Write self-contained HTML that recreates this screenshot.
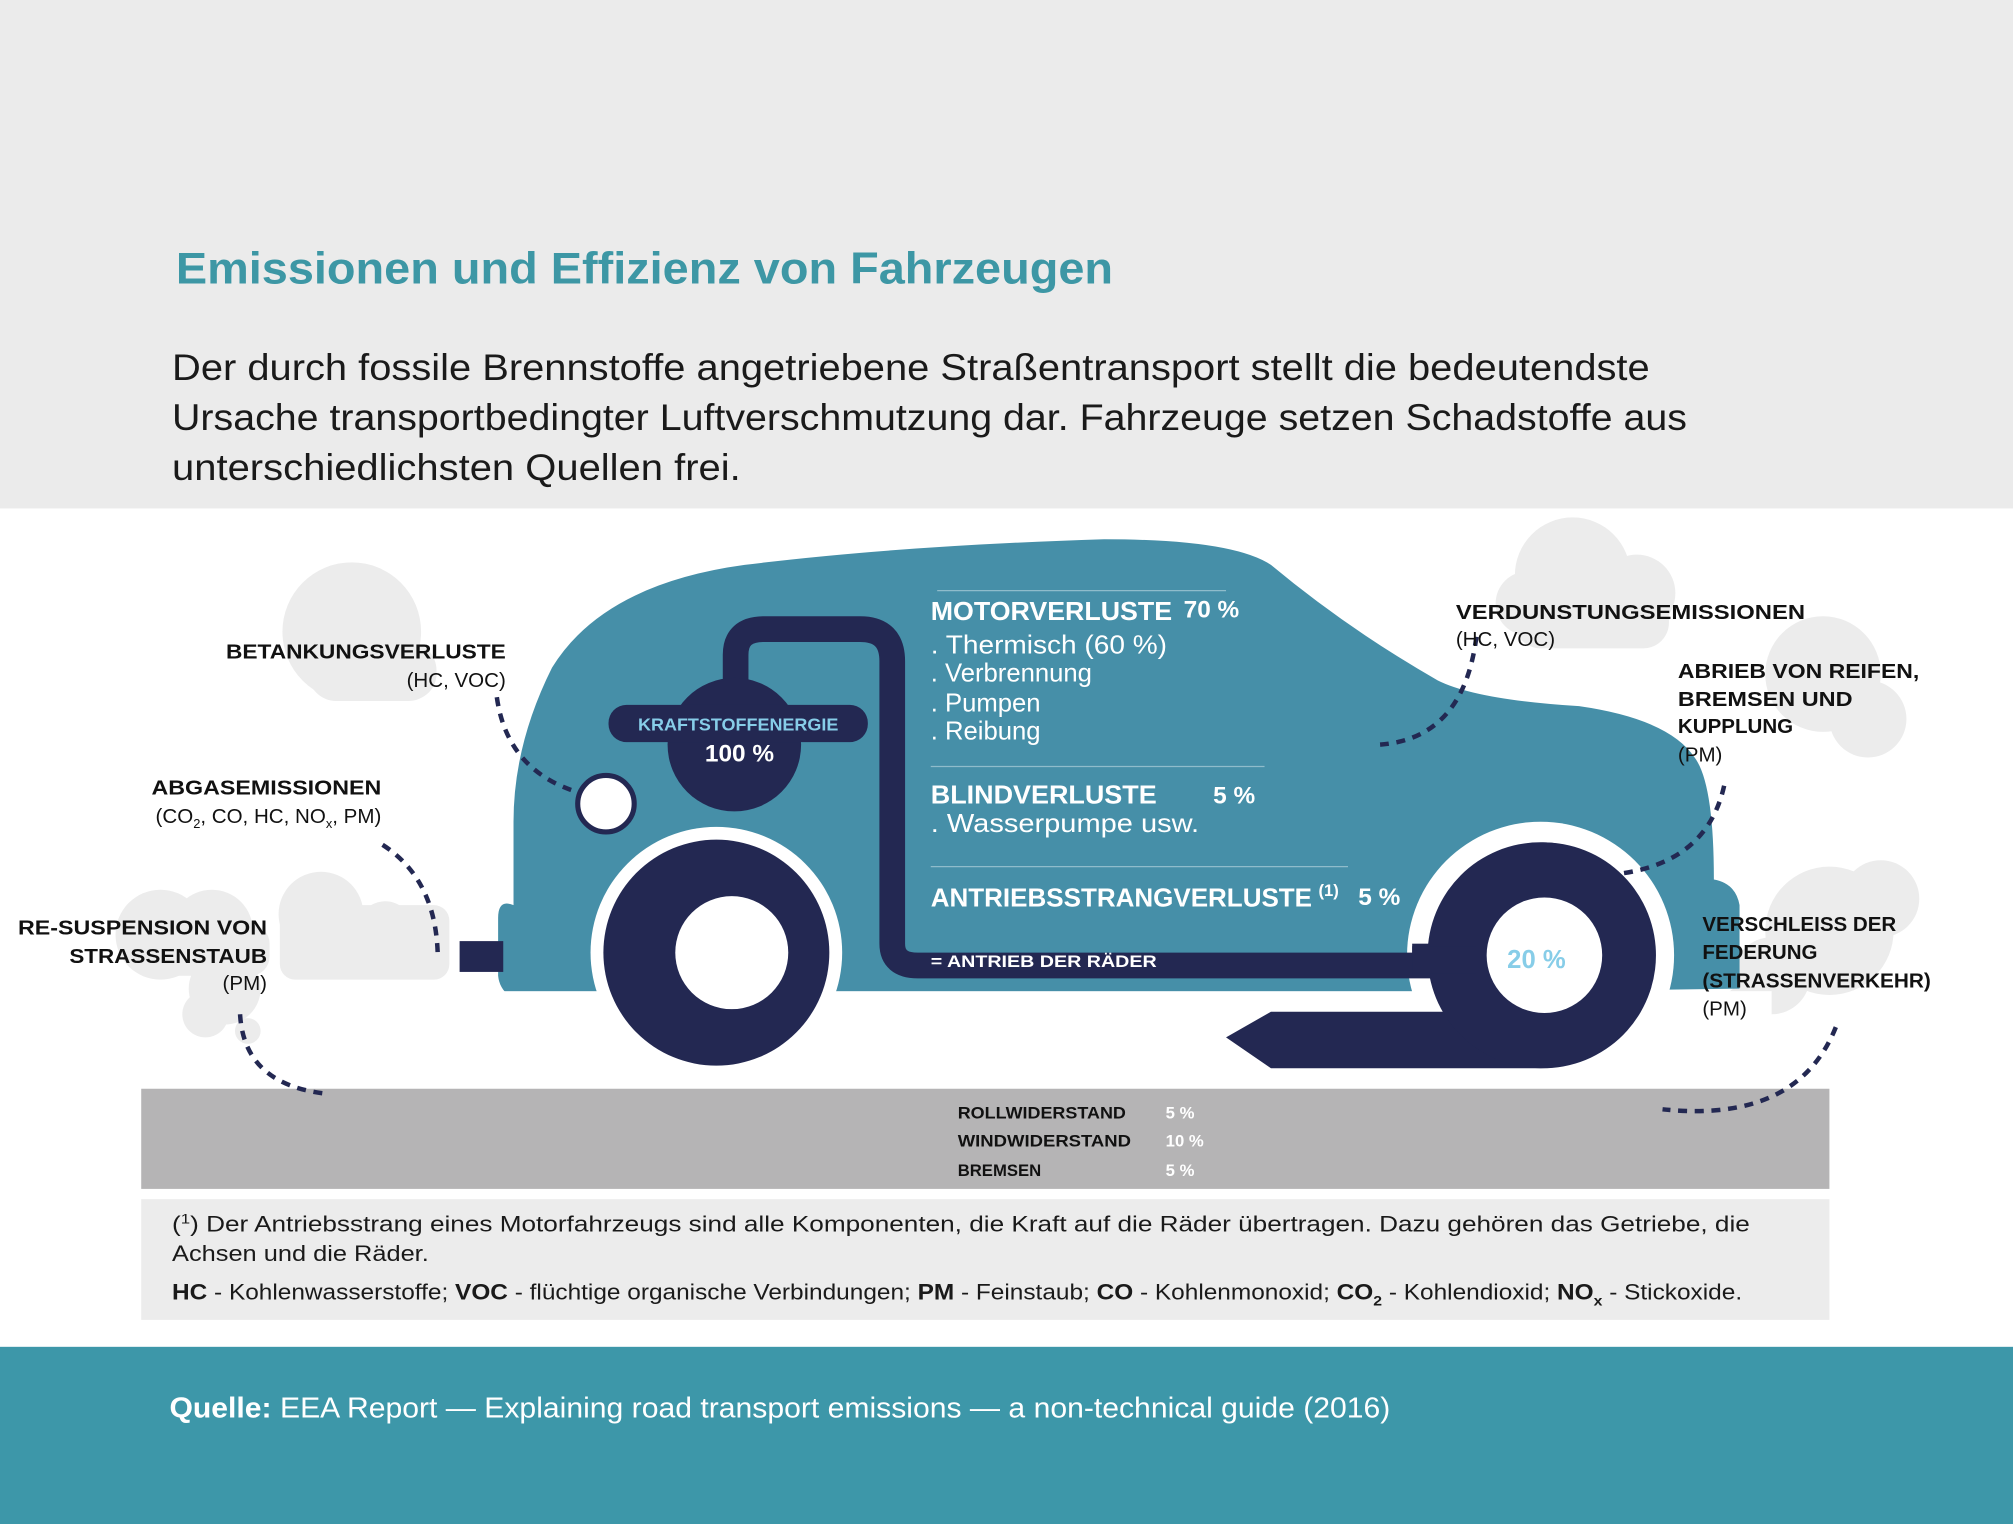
<!DOCTYPE html>
<html><head><meta charset="utf-8"><style>
html,body{margin:0;padding:0;background:#fff}
svg{display:block}
text{font-family:"Liberation Sans",sans-serif}
</style></head><body>
<svg width="2013" height="1524" viewBox="0 0 1568 1187" preserveAspectRatio="none" xmlns="http://www.w3.org/2000/svg">
<rect x="0" y="0" width="1568" height="396" fill="#ebebeb"/>
<text x="137" y="221" font-size="35" font-weight="bold" fill="#3d97a5" textLength="730" lengthAdjust="spacingAndGlyphs">Emissionen und Effizienz von Fahrzeugen</text>
<g font-size="29" fill="#1a1a1a">
<text x="134" y="296" textLength="1151" lengthAdjust="spacingAndGlyphs">Der durch fossile Brennstoffe angetriebene Straßentransport stellt die bedeutendste</text>
<text x="134" y="335" textLength="1180" lengthAdjust="spacingAndGlyphs">Ursache transportbedingter Luftverschmutzung dar. Fahrzeuge setzen Schadstoffe aus</text>
<text x="134" y="374" textLength="443" lengthAdjust="spacingAndGlyphs">unterschiedlichsten Quellen frei.</text>
</g>
<!-- clouds -->
<g fill="#ececec">
<circle cx="274" cy="492" r="54"/><circle cx="300" cy="515" r="30"/><circle cx="320" cy="525" r="20"/><rect x="240" y="500" width="100" height="46" rx="22"/>
<circle cx="250" cy="712" r="33"/><circle cx="300" cy="724" r="22"/><circle cx="320" cy="740" r="20"/><rect x="218" y="705" width="132" height="58" rx="12"/>
<circle cx="125" cy="728" r="35"/><circle cx="165" cy="725" r="32"/><circle cx="175" cy="770" r="28"/><circle cx="160" cy="790" r="18"/><circle cx="193" cy="803" r="10"/><rect x="100" y="720" width="110" height="40" rx="15"/>
<circle cx="1225" cy="448" r="45"/><circle cx="1275" cy="462" r="30"/><circle cx="1190" cy="470" r="25"/><rect x="1180" y="450" width="120" height="55" rx="20"/>
<circle cx="1420" cy="525" r="45"/><circle cx="1455" cy="560" r="30"/>
<circle cx="1425" cy="725" r="50"/><circle cx="1465" cy="700" r="30"/><circle cx="1380" cy="760" r="30"/><circle cx="1360" cy="785" r="18"/>
</g>
<!-- car body -->
<path d="M400,780 L400,705 Q388,700 388,715 L388,760 Q390,780 420,783 L1355,770 L1355,705 Q1352,688 1335,685 Q1335,610 1320,590 Q1300,560 1230,550 Q1150,545 1120,530 Q1050,490 990,440 Q960,420 860,420 Q700,425 580,440 Q470,455 430,520 Q400,580 400,640 Z" fill="#468fa8"/>
<g stroke="#8fbccb" stroke-width="1"><line x1="725" y1="597" x2="985" y2="597"/><line x1="725" y1="675" x2="1050" y2="675"/><line x1="730" y1="460" x2="955" y2="460"/></g>
<circle cx="558" cy="742" r="98" fill="#fff"/>
<circle cx="1200" cy="744" r="104" fill="#fff"/>
<rect x="380" y="772" width="1000" height="60" fill="#fff"/>
<circle cx="558" cy="742" r="88" fill="#232852"/><circle cx="570" cy="742" r="44" fill="#fff"/>
<path d="M573,540 L573,510 Q573,490 595,490 L670,490 Q695,490 695,515 L695,735 Q695,752 715,752 L1150,752" fill="none" stroke="#232852" stroke-width="20" stroke-linejoin="round"/>
<rect x="1100" y="735" width="60" height="23" fill="#232852"/>
<path d="M955,808 L990,788 L1205,788 A38,38 0 1 0 1162,758 L1115,758 A88,88 0 1 1 1205,832 L990,832 Z" fill="#232852"/>
<circle cx="1200" cy="744" r="88" fill="#232852"/><circle cx="1203" cy="744" r="45" fill="#fff"/>
<rect x="1100" y="737" width="50" height="21" fill="#232852"/>
<text x="1174" y="754" font-size="20" font-weight="bold" fill="#87cde8">20 %</text>
<circle cx="572" cy="580" r="52" fill="#232852"/>
<rect x="474" y="549" width="202" height="29" rx="14" fill="#232852"/>
<text x="575" y="569" font-size="14" font-weight="bold" fill="#87cde8" text-anchor="middle">KRAFTSTOFFENERGIE</text>
<text x="576" y="593" font-size="19" font-weight="bold" fill="#fff" text-anchor="middle">100 %</text>
<circle cx="472" cy="626" r="22" fill="#fff" stroke="#232852" stroke-width="4"/>
<rect x="358" y="733" width="34" height="24" fill="#232852"/>
<g fill="#fff">
<text x="725" y="483" font-size="20" font-weight="bold" textLength="188" lengthAdjust="spacingAndGlyphs">MOTORVERLUSTE</text><text x="922" y="481" font-size="19" font-weight="bold">70 %</text>
<text x="725" y="509" font-size="20" textLength="184" lengthAdjust="spacingAndGlyphs">. Thermisch (60 %)</text>
<text x="725" y="531" font-size="20">. Verbrennung</text>
<text x="725" y="554" font-size="20">. Pumpen</text>
<text x="725" y="576" font-size="20">. Reibung</text>
<text x="725" y="626" font-size="20" font-weight="bold" textLength="176" lengthAdjust="spacingAndGlyphs">BLINDVERLUSTE</text><text x="945" y="626" font-size="19" font-weight="bold">5 %</text>
<text x="725" y="648" font-size="20" textLength="209" lengthAdjust="spacingAndGlyphs">. Wasserpumpe usw.</text>
<text x="725" y="706" font-size="20" font-weight="bold" textLength="297" lengthAdjust="spacingAndGlyphs">ANTRIEBSSTRANGVERLUSTE</text><text x="1027" y="698" font-size="13" font-weight="bold">(1)</text><text x="1058" y="705" font-size="19" font-weight="bold">5 %</text>
<text x="725" y="753" font-size="13" font-weight="bold" textLength="176" lengthAdjust="spacingAndGlyphs">= ANTRIEB DER RÄDER</text>
</g>
<!-- ground -->
<rect x="110" y="848" width="1315" height="78" fill="#b5b4b5"/>
<g font-size="13" font-weight="bold">
<text x="746" y="871" fill="#111" textLength="131" lengthAdjust="spacingAndGlyphs">ROLLWIDERSTAND</text><text x="908" y="871" fill="#fff">5 %</text>
<text x="746" y="893" fill="#111" textLength="135" lengthAdjust="spacingAndGlyphs">WINDWIDERSTAND</text><text x="908" y="893" fill="#fff">10 %</text>
<text x="746" y="916" fill="#111">BREMSEN</text><text x="908" y="916" fill="#fff">5 %</text>
</g>
<!-- dotted leaders -->
<g fill="none" stroke="#232852" stroke-width="3.5" stroke-dasharray="7,6">
<path d="M387,543 Q395,600 450,617"/>
<path d="M298,658 Q340,685 341,745"/>
<path d="M187,790 Q190,845 255,852"/>
<path d="M1150,496 Q1140,575 1075,580"/>
<path d="M1343,612 Q1330,670 1265,680"/>
<path d="M1430,800 Q1400,875 1295,864"/>
</g>
<g fill="#111" font-size="16">
<text x="394" y="513" font-weight="bold" text-anchor="end" textLength="218" lengthAdjust="spacingAndGlyphs">BETANKUNGSVERLUSTE</text>
<text x="394" y="535" text-anchor="end">(HC, VOC)</text>
<text x="297" y="619" font-weight="bold" text-anchor="end" textLength="179" lengthAdjust="spacingAndGlyphs">ABGASEMISSIONEN</text>
<text x="297" y="641" text-anchor="end">(CO<tspan font-size="10" dy="4">2</tspan><tspan dy="-4">, CO, HC, NO</tspan><tspan font-size="10" dy="4">x</tspan><tspan dy="-4">, PM)</tspan></text>
<text x="208" y="728" font-weight="bold" text-anchor="end" textLength="194" lengthAdjust="spacingAndGlyphs">RE-SUSPENSION VON</text>
<text x="208" y="750" font-weight="bold" text-anchor="end" textLength="154" lengthAdjust="spacingAndGlyphs">STRASSENSTAUB</text>
<text x="208" y="771" text-anchor="end">(PM)</text>
<text x="1134" y="482" font-weight="bold" textLength="272" lengthAdjust="spacingAndGlyphs">VERDUNSTUNGSEMISSIONEN</text>
<text x="1134" y="503">(HC, VOC)</text>
<text x="1307" y="528" font-weight="bold" textLength="188" lengthAdjust="spacingAndGlyphs">ABRIEB VON REIFEN,</text>
<text x="1307" y="550" font-weight="bold" textLength="136" lengthAdjust="spacingAndGlyphs">BREMSEN UND</text>
<text x="1307" y="571" font-weight="bold">KUPPLUNG</text>
<text x="1307" y="593">(PM)</text>
<text x="1326" y="725" font-weight="bold">VERSCHLEISS DER</text>
<text x="1326" y="747" font-weight="bold">FEDERUNG</text>
<text x="1326" y="769" font-weight="bold" textLength="178" lengthAdjust="spacingAndGlyphs">(STRASSENVERKEHR)</text>
<text x="1326" y="791">(PM)</text>
</g>
<rect x="110" y="934" width="1315" height="94" fill="#ececec"/>
<g font-size="17" fill="#1a1a1a">
<text x="134" y="959" textLength="1229" lengthAdjust="spacingAndGlyphs">(<tspan font-size="11" dy="-6">1</tspan><tspan dy="6">) Der Antriebsstrang eines Motorfahrzeugs sind alle Komponenten, die Kraft auf die Räder übertragen. Dazu gehören das Getriebe, die</tspan></text>
<text x="134" y="982" textLength="200" lengthAdjust="spacingAndGlyphs">Achsen und die Räder.</text>
<text x="134" y="1012" textLength="1223" lengthAdjust="spacingAndGlyphs"><tspan font-weight="bold">HC</tspan> - Kohlenwasserstoffe; <tspan font-weight="bold">VOC</tspan> - flüchtige organische Verbindungen; <tspan font-weight="bold">PM</tspan> - Feinstaub; <tspan font-weight="bold">CO</tspan> - Kohlenmonoxid; <tspan font-weight="bold">CO</tspan><tspan font-size="11" font-weight="bold" dy="5">2</tspan><tspan dy="-5"> - Kohlendioxid; </tspan><tspan font-weight="bold">NO</tspan><tspan font-size="11" font-weight="bold" dy="5">x</tspan><tspan dy="-5"> - Stickoxide.</tspan></text>
</g>
<rect x="0" y="1049" width="1568" height="138" fill="#3d97a9"/>
<text x="132" y="1104" font-size="22" fill="#fff" textLength="951" lengthAdjust="spacingAndGlyphs"><tspan font-weight="bold">Quelle:</tspan> EEA Report — Explaining road transport emissions — a non-technical guide (2016)</text>
</svg>
</body></html>
